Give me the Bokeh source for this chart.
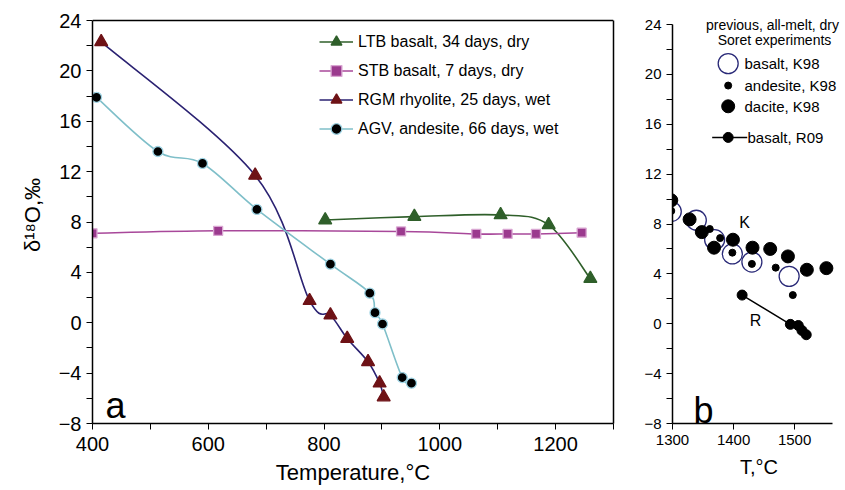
from bokeh.plotting import figure
from bokeh.layouts import row
from bokeh.models import (FixedTicker, Legend, LegendItem, Label, Range1d,
                          LinearAxis, Span)
from bokeh.embed import file_html
from bokeh.resources import INLINE

FONT = "Liberation Sans"

# ---------------- panel a data ----------------
ltb_t = [802, 956, 1105, 1188, 1260]
ltb_d = [8.16, 8.43, 8.56, 7.77, 3.5]

stb_t = [400, 617, 933, 1063, 1117, 1166, 1245]
stb_d = [7.1, 7.3, 7.25, 7.05, 7.05, 7.05, 7.15]

rgm_t = [415, 681, 775, 811, 840, 876, 896, 903]
rgm_d = [22.3, 11.7, 1.75, 0.6, -1.25, -3.1, -4.8, -5.9]

agv_t = [407, 513, 590, 684, 811, 879, 888, 901, 935, 951]
agv_d = [17.9, 13.6, 12.65, 9.0, 4.65, 2.35, 0.8, -0.1, -4.35, -4.8]

legend_a = ["LTB basalt, 34 days, dry", "STB basalt, 7 days, dry",
            "RGM rhyolite, 25 days, wet", "AGV, andesite, 66 days, wet"]

# ---------------- panel b data ----------------
bas_k_t = [1298, 1339, 1369, 1398, 1430, 1491]
bas_k_d = [9.0, 8.3, 6.74, 5.6, 4.95, 3.8]

and_k_t = [1298, 1361, 1378, 1398, 1430, 1469, 1497]
and_k_d = [9.05, 7.6, 6.87, 5.7, 4.8, 4.5, 2.3]

dac_k_t = [1298, 1328, 1348, 1368, 1399, 1431, 1460, 1489, 1520, 1552]
dac_k_d = [9.9, 8.37, 7.35, 6.1, 6.74, 6.1, 6.0, 5.4, 4.33, 4.46]

bas_r_t = [1414, 1493, 1506, 1512, 1519]
bas_r_d = [2.3, -0.05, -0.14, -0.54, -0.88]

legend_b = ["basalt, K98", "andesite, K98", "dacite, K98", "basalt, R09"]

yticks = [-8, -4, 0, 4, 8, 12, 16, 20, 24]
yminor = [-6, -2, 2, 6, 10, 14, 18, 22]
xticks_a = [400, 600, 800, 1000, 1200]
xminor_a = [500, 700, 900, 1100, 1300]
xticks_b = [1300, 1400, 1500]

# axis extents (frames are a little larger so that the texts fit)
xa0, xa1 = 400, 1300
xb0, xb1 = 1300, 1562
y0, y1 = -8, 24


def smooth(xs, ys):
    """Catmull-Rom control points for a smoothed line through the data."""
    n = len(xs)
    out = {k: [] for k in ("x0", "y0", "x1", "y1", "cx0", "cy0", "cx1", "cy1")}
    for i in range(n - 1):
        im = max(i - 1, 0)
        ip = min(i + 2, n - 1)
        out["x0"].append(xs[i]); out["y0"].append(ys[i])
        out["x1"].append(xs[i + 1]); out["y1"].append(ys[i + 1])
        out["cx0"].append(xs[i] + (xs[i + 1] - xs[im]) / 6)
        out["cy0"].append(ys[i] + (ys[i + 1] - ys[im]) / 6)
        out["cx1"].append(xs[i + 1] - (xs[ip] - xs[i]) / 6)
        out["cy1"].append(ys[i + 1] - (ys[ip] - ys[i]) / 6)
    return out


def style_axes(p, tick_size, label_size):
    for ax in list(p.xaxis) + list(p.yaxis):
        ax.axis_line_width = 1.5
        ax.axis_line_color = "black"
        ax.major_tick_line_color = "black"
        ax.minor_tick_line_color = "black"
        ax.major_tick_in = 0
        ax.major_tick_out = 6
        ax.minor_tick_in = 0
        ax.minor_tick_out = 6
        ax.major_label_text_font = FONT
        ax.major_label_text_font_size = tick_size
        ax.major_label_text_color = "black"
        ax.axis_label_text_font = FONT
        ax.axis_label_text_font_size = label_size
        ax.axis_label_text_font_style = "normal"
        ax.axis_label_text_color = "black"
    p.grid.visible = False


# ================= panel a =================
# frame 521 x 417 px: 403 px for -8..24 plus 14 px above
pya = 403 / (y1 - y0)
pa = figure(x_range=Range1d(xa0, xa1), y_range=Range1d(y0, y1 + 14 / pya),
            width=628, height=490, title=None,
            min_border_left=92, min_border_right=15,
            min_border_top=6, min_border_bottom=67,
            output_backend="svg", toolbar_location=None,
            background_fill_color="white", border_fill_color="white")
pa.outline_line_color = None
pa.xaxis.axis_label = "Temperature,°C"
pa.yaxis.axis_label = "δ¹⁸O,‰"
pa.xaxis.ticker = FixedTicker(ticks=xticks_a, minor_ticks=xminor_a)
pa.yaxis.ticker = FixedTicker(ticks=yticks, minor_ticks=yminor)
pa.yaxis.bounds = (y0, y1)
style_axes(pa, "20px", "22px")
pa.xaxis.major_label_standoff = 7
pa.xaxis.axis_label_standoff = 6
pa.yaxis.major_label_standoff = 5
pa.yaxis.axis_label_standoff = 11

# box: right edge as a bare axis, top edge as a span at the top of the scale
right_ax = LinearAxis(ticker=FixedTicker(ticks=[], minor_ticks=[]),
                      bounds=(y0, y1), axis_line_width=1.5,
                      axis_line_color="black", major_tick_line_color=None,
                      minor_tick_line_color=None, major_label_text_font_size="0px")
pa.add_layout(right_ax, "right")
pa.add_layout(Span(location=y1, dimension="width", line_color="black",
                   line_width=1.5))

series = [
    (ltb_t, ltb_d, "#2f5f2a", "triangle", "#2f5f2a", "#2f5f2a", 13),
    (stb_t, stb_d, "#a8489a", "square", "#9b3a8e", "#d9a6d2", 9),
    (rgm_t, rgm_d, "#2b2272", "triangle", "#6e1216", "#6e1216", 13),
    (agv_t, agv_d, "#7fbfc9", "circle", "black", "#9fd4e4", 10),
]
items = []
for (xs, ys, lc, mk, fc, mlc, sz), name in zip(series, legend_a):
    c = smooth(xs, ys)
    lr = pa.bezier(x0=c["x0"], y0=c["y0"], x1=c["x1"], y1=c["y1"],
                   cx0=c["cx0"], cy0=c["cy0"], cx1=c["cx1"], cy1=c["cy1"],
                   line_color=lc, line_width=1.6)
    sr = pa.scatter(xs, ys, marker=mk, size=sz, fill_color=fc,
                    line_color=mlc, line_width=1.3)
    items.append(LegendItem(label=name, renderers=[lr, sr]))

leg = Legend(items=items, location=(227, 281), orientation="vertical",
             glyph_width=34, glyph_height=27, label_height=27, spacing=2,
             label_standoff=5, padding=0, margin=0,
             border_line_color=None, background_fill_alpha=0,
             label_text_font=FONT, label_text_font_size="16px",
             label_text_color="black")
pa.add_layout(leg)

pa.add_layout(Label(x=13, y=18, x_units="screen", y_units="screen", text="a",
                    text_font=FONT, text_font_size="36px",
                    text_baseline="alphabetic", text_color="black"))

# ================= panel b =================
# frame 173 x 417 px: 160 px for 1300..1562 plus 13 px right; 399 px for -8..24 plus 18 px above
pxb = 160 / (xb1 - xb0)
pyb = 399 / (y1 - y0)
pb = figure(x_range=Range1d(xb0, xb1 + 13 / pxb),
            y_range=Range1d(y0, y1 + 18 / pyb),
            width=217, height=490, title=None,
            min_border_left=44, min_border_right=0,
            min_border_top=6, min_border_bottom=67,
            output_backend="svg", toolbar_location=None,
            background_fill_color="white", border_fill_color="white")
pb.outline_line_color = None
pb.xaxis.axis_label = "T,°C"
pb.xaxis.ticker = FixedTicker(ticks=xticks_b, minor_ticks=[])
pb.yaxis.ticker = FixedTicker(ticks=yticks, minor_ticks=yminor)
pb.xaxis.bounds = (xb0, xb1)
pb.yaxis.bounds = (y0, y1)
style_axes(pb, "15px", "20px")
pb.xaxis.major_label_standoff = 5
pb.xaxis.axis_label_standoff = 8
pb.yaxis.major_label_standoff = 5

navy = "#2a2a78"
pb.scatter(bas_k_t, bas_k_d, marker="circle", size=20, fill_color=None,
           line_color=navy, line_width=1.3)
pb.scatter(dac_k_t, dac_k_d, marker="circle", size=13, fill_color="black",
           line_color="black")
pb.scatter(and_k_t, and_k_d, marker="circle", size=7, fill_color="black",
           line_color="black")
pb.line(bas_r_t, bas_r_d, line_color="black", line_width=1.5)
pb.scatter(bas_r_t, bas_r_d, marker="circle", size=10, fill_color="black",
           line_color="black")

pb.add_layout(Label(x=1418, y=8.15, text="K", text_font=FONT,
                    text_font_size="16px", text_align="center",
                    text_baseline="middle", text_color="black"))
pb.add_layout(Label(x=1436, y=0.26, text="R", text_font=FONT,
                    text_font_size="16px", text_align="center",
                    text_baseline="middle", text_color="black"))

# legend of panel b (keys placed relative to the axis extents)
kx = xb0 + 0.348 * (xb1 - xb0)
ky = [y0 + f * (y1 - y0) for f in (0.902, 0.847, 0.795, 0.717)]
pb.scatter([kx], [ky[0]], marker="circle", size=20, fill_color=None,
           line_color=navy, line_width=1.3)
pb.scatter([kx], [ky[1]], marker="circle", size=7, fill_color="black",
           line_color="black")
pb.scatter([kx], [ky[2]], marker="circle", size=13, fill_color="black",
           line_color="black")
pb.line([xb0 + 0.248 * (xb1 - xb0), xb0 + 0.467 * (xb1 - xb0)], [ky[3], ky[3]],
        line_color="black", line_width=1.5)
pb.scatter([kx], [ky[3]], marker="circle", size=10, fill_color="black",
           line_color="black")

for name, sy, sx in zip(legend_b, (359.7, 338, 317, 285.7), (72, 72, 72, 75)):
    pb.add_layout(Label(x=sx, y=sy, x_units="screen", y_units="screen",
                        text=name, text_font=FONT, text_font_size="15px",
                        text_baseline="middle", text_color="black"))

pb.add_layout(Label(x=100, y=399, x_units="screen", y_units="screen",
                    text="previous, all-melt, dry", text_font=FONT,
                    text_font_size="14px", text_align="center",
                    text_baseline="middle", text_color="black"))
pb.add_layout(Label(x=102, y=384, x_units="screen", y_units="screen",
                    text="Soret experiments", text_font=FONT,
                    text_font_size="14px", text_align="center",
                    text_baseline="middle", text_color="black"))

pb.add_layout(Label(x=21, y=13, x_units="screen", y_units="screen", text="b",
                    text_font=FONT, text_font_size="36px",
                    text_baseline="alphabetic", text_color="black"))

layout = row(pa, pb)
open("out.html", "w").write(file_html(layout, INLINE))
